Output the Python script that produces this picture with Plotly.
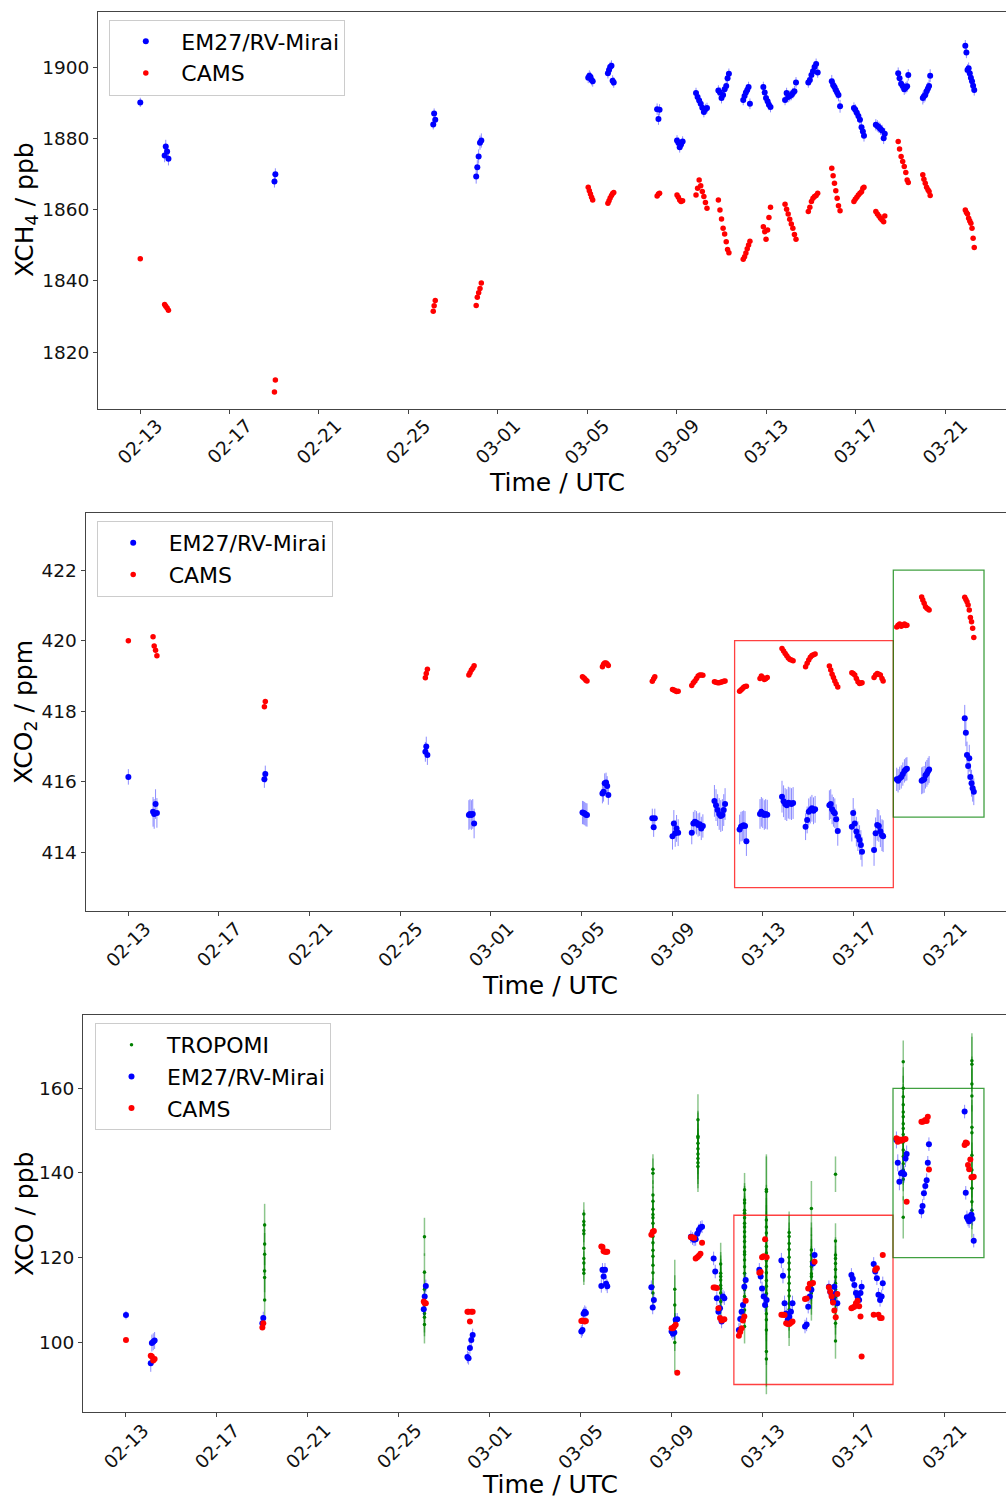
import pandas as pd
import plotly.graph_objects as go

# ---------------- data (time = fractional day of year 2021, 1.0 = Jan 1 00:00 UTC) ----------------
em27_times = [
    [44.01],
    [45.10, 45.15, 45.21, 45.27],
    [50.01, 50.05],
    [57.11, 57.15, 57.20],
    [59.03, 59.08, 59.14, 59.20, 59.26],
    [64.04, 64.09, 64.14, 64.19, 64.24],
    [64.92, 64.97, 65.02, 65.08, 65.13, 65.18],
    [67.12, 67.18, 67.23],
    [68.01, 68.07, 68.13, 68.19, 68.26],
    [68.86, 68.93, 69.00, 69.07, 69.14, 69.21, 69.28, 69.35],
    [69.86, 69.93, 70.00, 70.07, 70.14, 70.21, 70.27, 70.33],
    [70.97, 71.03, 71.09, 71.15, 71.21, 71.27],
    [71.87, 71.93, 71.99, 72.06, 72.12, 72.19],
    [72.84, 72.91, 72.98, 73.05, 73.12, 73.19, 73.26, 73.33],
    [73.88, 73.95, 74.02, 74.09, 74.16, 74.23, 74.30],
    [74.93, 74.99, 75.05, 75.11, 75.17, 75.23, 75.30],
    [75.92, 75.98, 76.05, 76.12, 76.19, 76.26, 76.32, 76.37],
    [76.90, 76.97, 77.04, 77.11, 77.18, 77.25, 77.30],
    [77.90, 77.96, 78.03, 78.10, 78.17, 78.24, 78.30, 78.35],
    [79.00, 79.05, 79.11, 79.17, 79.23, 79.28, 79.33],
    [80.90, 80.95, 81.00, 81.05, 81.10, 81.15, 81.20, 81.25, 81.30],
]

ch4_em27 = [
    [1890.1],
    [1875.2, 1877.7, 1876.3, 1874.3],
    [1867.9, 1869.9],
    [1883.9, 1887.0, 1885.2],
    [1869.3, 1871.9, 1874.9, 1878.8, 1879.4],
    [1897.0, 1897.6, 1897.2, 1896.4, 1896.0],
    [1898.3, 1899.2, 1900.0, 1900.4, 1896.2, 1895.7],
    [1888.2, 1885.4, 1888.0],
    [1879.4, 1878.8, 1877.5, 1878.3, 1879.1],
    [1892.7, 1891.6, 1890.6, 1889.7, 1888.6, 1887.4, 1888.2, 1888.5],
    [1893.4, 1892.9, 1891.3, 1892.2, 1893.8, 1894.7, 1896.9, 1898.1],
    [1890.8, 1891.9, 1892.9, 1893.6, 1894.4, 1889.7],
    [1894.4, 1892.9, 1891.3, 1890.4, 1889.4, 1888.8],
    [1890.8, 1892.7, 1891.6, 1891.9, 1892.2, 1892.7, 1893.2, 1895.7],
    [1895.7, 1896.4, 1897.8, 1898.8, 1900.0, 1900.9, 1898.5],
    [1896.0, 1895.0, 1894.4, 1893.6, 1892.9, 1892.2, 1889.0],
    [1888.5, 1888.0, 1887.2, 1886.3, 1885.2, 1883.1, 1881.9, 1880.7],
    [1883.8, 1883.5, 1883.1, 1882.6, 1882.2, 1880.0, 1881.3],
    [1898.3, 1896.9, 1895.3, 1894.7, 1893.8, 1894.2, 1894.6, 1897.8],
    [1891.3, 1891.8, 1892.2, 1893.2, 1894.0, 1894.7, 1897.6],
    [1906.0, 1904.1, 1899.2, 1899.7, 1898.3, 1897.0, 1896.0, 1894.8, 1893.6],
]
ch4_em27_err = [1.3, 1.9, 1.7, 1.4, 2.0, 1.5, 1.5, 1.6, 1.5, 1.5, 1.5,
                1.5, 1.5, 1.5, 1.5, 1.8, 1.6, 1.6, 1.6, 1.8, 1.6]

ch4_cams = [
    [1846.2],
    [1833.4, 1832.9, 1832.4, 1831.8],
    [1808.8, 1812.2],
    [1831.5, 1833.0, 1834.5],
    [1833.1, 1835.4, 1836.7, 1837.9, 1839.4],
    [1866.3, 1865.3, 1864.4, 1863.5, 1862.7],
    [1861.8, 1862.5, 1863.3, 1864.0, 1864.5, 1864.8],
    [1863.8, 1864.4, 1864.6],
    [1864.1, 1863.5, 1862.7, 1862.3, 1862.5],
    [1864.1, 1866.0, 1868.3, 1866.7, 1865.1, 1863.7, 1862.0, 1860.4],
    [1862.7, 1859.9, 1857.4, 1854.8, 1853.2, 1851.0, 1848.8, 1847.9],
    [1846.1, 1846.8, 1847.8, 1849.0, 1850.1, 1851.1],
    [1855.2, 1853.8, 1851.7, 1854.3, 1857.8, 1860.7],
    [1861.5, 1860.1, 1858.8, 1857.3, 1856.0, 1854.8, 1853.0, 1851.7],
    [1859.5, 1860.7, 1862.3, 1863.2, 1863.7, 1864.0, 1864.6],
    [1871.6, 1869.5, 1867.4, 1865.3, 1863.2, 1861.1, 1859.7],
    [1862.3, 1862.9, 1863.5, 1864.1, 1864.6, 1865.0, 1866.0, 1866.3],
    [1859.5, 1858.8, 1858.2, 1857.6, 1857.1, 1856.6, 1858.2],
    [1879.1, 1877.0, 1874.9, 1873.5, 1872.1, 1870.4, 1868.3, 1867.6],
    [1869.8, 1868.5, 1867.4, 1866.3, 1865.6, 1865.1, 1864.0],
    [1859.9, 1859.2, 1858.8, 1857.6, 1856.8, 1856.2, 1854.8, 1852.0, 1849.4],
]

co2_em27 = [
    [416.14],
    [415.15, 415.09, 415.37, 415.12],
    [416.07, 416.22],
    [416.85, 417.00, 416.76],
    [415.06, 415.09, 415.06, 415.09, 414.82],
    [415.13, 415.12, 415.10, 415.07, 415.06],
    [415.67, 415.72, 415.96, 415.98, 415.88, 415.63],
    [414.97, 414.71, 414.97],
    [414.46, 414.82, 414.54, 414.68, 414.56],
    [414.56, 414.82, 414.87, 414.84, 414.78, 414.80, 414.68, 414.75],
    [415.46, 415.34, 415.20, 415.09, 415.03, 415.06, 415.20, 415.37],
    [414.65, 414.73, 414.75, 414.77, 414.75, 414.32],
    [415.09, 415.15, 415.11, 415.06, 415.09, 415.07],
    [415.58, 415.45, 415.37, 415.34, 415.41, 415.39, 415.37, 415.40],
    [414.73, 414.92, 415.15, 415.20, 415.25, 415.18, 415.22],
    [415.34, 415.37, 415.22, 415.15, 415.11, 414.94, 414.61],
    [414.73, 415.12, 414.82, 414.59, 414.46, 414.35, 414.21, 414.02],
    [414.07, 414.54, 414.78, 414.75, 414.60, 414.49, 414.46],
    [416.07, 416.03, 416.10, 416.14, 416.22, 416.31, 416.35, 416.37],
    [416.03, 416.05, 416.07, 416.19, 416.24, 416.30, 416.35],
    [417.80, 417.39, 416.76, 416.45, 416.67, 416.14, 415.96, 415.82, 415.72],
]
co2_em27_err = [0.22, 0.42, 0.24, 0.28, 0.42, 0.33, 0.28, 0.27, 0.38, 0.33, 0.45,
                0.42, 0.42, 0.45, 0.38, 0.42, 0.42, 0.45, 0.33, 0.38, 0.38]

co2_cams = [
    [420.00],
    [420.11, 419.85, 419.73, 419.57],
    [418.13, 418.28],
    [418.95, 419.07, 419.19],
    [419.03, 419.09, 419.17, 419.22, 419.29],
    [418.98, 418.95, 418.92, 418.88, 418.86],
    [419.26, 419.33, 419.37, 419.37, 419.34, 419.30],
    [418.85, 418.92, 418.98],
    [418.62, 418.60, 418.58, 418.56, 418.57],
    [418.73, 418.81, 418.86, 418.93, 419.00, 419.03, 419.03, 419.02],
    [418.84, 418.82, 418.81, 418.81, 418.82, 418.84, 418.85, 418.86],
    [418.57, 418.60, 418.64, 418.68, 418.70, 418.71],
    [418.93, 419.00, 418.96, 418.90, 418.92, 418.96],
    [419.78, 419.71, 419.64, 419.57, 419.51, 419.47, 419.45, 419.43],
    [419.26, 419.36, 419.45, 419.53, 419.58, 419.60, 419.62],
    [419.28, 419.17, 419.05, 418.96, 418.86, 418.77, 418.69],
    [419.09, 419.07, 419.03, 418.93, 418.84, 418.79, 418.80, 418.81],
    [418.96, 419.03, 419.07, 419.05, 419.03, 418.93, 418.86],
    [420.39, 420.44, 420.47, 420.41, 420.44, 420.47, 420.43, 420.44],
    [421.24, 421.15, 421.06, 420.96, 420.92, 420.90, 420.87],
    [421.23, 421.17, 421.10, 421.01, 420.87, 420.66, 420.54, 420.35, 420.09],
]

co_em27 = [
    [106.4],
    [95.0, 99.8, 100.1, 100.4],
    [104.5, 105.7],
    [107.8, 110.8, 113.3],
    [96.5, 96.2, 98.6, 100.5, 101.7],
    [102.5, 102.9, 106.7, 107.2, 106.9],
    [113.3, 117.1, 115.5, 117.1, 113.8, 113.2],
    [113.0, 108.2, 110.0],
    [102.5, 102.0, 102.3, 105.3, 105.4],
    [124.9, 124.5, 124.2, 124.3, 125.6, 126.5, 127.1, 127.3],
    [119.8, 116.7, 110.4, 107.2, 108.0, 104.9, 110.8, 110.4],
    [102.9, 105.5, 107.2, 108.8, 113.1, 114.7],
    [117.1, 115.5, 112.7, 110.8, 108.8, 110.0],
    [119.3, 115.7, 109.2, 106.8, 105.3, 106.0, 107.2, 109.2],
    [103.7, 104.2, 108.4, 110.8, 112.4, 118.6, 120.6],
    [113.1, 111.9, 111.2, 110.0, 113.1, 111.5, 109.2],
    [115.9, 115.0, 113.5, 111.6, 110.8, 110.0, 111.6, 113.1],
    [118.5, 116.7, 115.1, 111.2, 110.0, 110.8, 113.9],
    [147.8, 142.4, 137.9, 139.9, 140.1, 139.7, 143.4, 144.5],
    [130.9, 132.2, 135.2, 136.9, 138.3, 142.4, 146.8],
    [154.5, 135.3, 129.5, 129.0, 128.6, 129.7, 130.1, 129.2, 124.0],
]
co_em27_err = [1.0, 2.0, 1.5, 1.5, 1.5, 1.5, 1.6, 1.6, 1.5, 1.5, 1.6,
               1.6, 1.6, 1.8, 1.6, 1.5, 1.6, 1.6, 2.0, 1.6, 1.6]

co_cams = [
    [100.5],
    [96.8, 96.6, 95.7, 96.0],
    [103.5, 104.5],
    [109.6, 109.2, 109.2],
    [107.2, 107.2, 104.9, 107.2, 107.2],
    [105.0, 105.1, 105.0, 104.9, 105.0],
    [122.6, 122.5, 121.5, 121.4, 121.4, 121.4],
    [125.4, 126.1, 126.3],
    [103.3, 103.3, 103.7, 104.1, 92.8],
    [124.8, 124.8, 124.6, 119.8, 120.1, 120.4, 120.9, 123.5],
    [112.9, 112.9, 112.8, 108.0, 105.7, 105.1, 105.3, 105.4],
    [101.5, 102.4, 103.3, 105.1, 106.1, 109.8],
    [116.4, 116.6, 120.1, 120.3, 124.3, 120.1],
    [106.5, 106.5, 106.4, 104.5, 104.3, 104.3, 104.6, 104.9],
    [110.2, 110.3, 112.7, 113.8, 113.8, 114.0, 119.0],
    [113.0, 111.9, 110.8, 109.4, 107.5, 105.9, 111.4],
    [108.0, 108.2, 108.4, 109.2, 109.8, 108.5, 106.1, 96.6],
    [106.5, 117.1, 117.5, 106.5, 105.7, 105.7, 120.6],
    [148.2, 147.4, 147.9, 147.6, 147.9, 147.9, 148.0, 133.2],
    [152.1, 152.1, 152.2, 152.5, 152.3, 153.3, 140.8],
    [146.6, 147.2, 147.0, 141.9, 140.9, 143.2, 139.0, 139.0, 139.1],
]

tropomi_times = [50.11, 57.14, 64.15, 67.19, 68.15, 69.17, 70.17,
                 71.22, 72.18, 73.18, 74.16, 75.22, 78.20, 81.22]
tropomi_co = [
    [127.7, 123.2, 120.8, 116.8, 115.3, 110.0],
    [124.9, 116.5, 112.5, 109.2, 106.8, 105.9, 104.2],
    [130.3, 128.5, 127.7, 126.4, 125.6, 122.2, 119.8, 118.7, 117.1, 116.3],
    [140.9, 139.9, 134.8, 133.3, 131.4, 130.2, 129.4, 128.1, 126.3, 125.0,
     123.5, 121.7, 120.3, 118.2, 116.4, 113.1, 111.6],
    [112.5, 108.8, 104.9, 99.9],
    [152.6, 148.7, 148.3, 147.0, 145.7, 144.5, 143.4, 142.4, 141.5],
    [118.5, 116.3, 115.5, 114.7, 113.4, 112.7, 111.6, 109.6],
    [136.0, 133.6, 132.9, 131.2, 130.5, 129.4, 128.1, 127.2, 126.1, 124.9, 123.8,
     122.5, 121.4, 120.7, 119.4, 117.8, 116.3, 114.6, 112.4, 110.8, 107.6, 103.7],
    [136.1, 135.6, 128.9, 127.2, 125.8, 124.1, 122.6, 121.1, 119.3, 117.9, 116.4,
     114.6, 113.2, 111.5, 110.0, 108.5, 106.7, 105.3, 102.9, 97.8, 96.0],
    [125.9, 125.0, 123.3, 121.9, 120.1, 118.7, 117.2, 115.4, 113.9, 112.3,
     110.9, 109.1, 107.7, 106.0, 104.1],
    [131.6, 121.8, 120.6, 119.0, 117.9, 116.2, 115.5, 114.3, 113.0, 111.6],
    [139.7, 123.9, 120.6, 119.8, 118.6, 117.2, 115.4, 113.9, 112.5, 110.7,
     109.3, 107.6, 106.0, 104.5, 100.3],
    [166.3, 160.0, 158.0, 156.1, 154.4, 153.3, 151.6, 150.5, 149.1, 147.3,
     145.4, 143.9, 142.2, 140.7, 138.5, 129.5],
    [166.5, 165.7, 161.0, 158.2, 150.8, 149.5, 144.2, 140.7, 138.7, 136.4, 133.2, 131.2],
]
tropomi_err = [5.0, 4.5, 2.8, 3.5, 7.0, 6.0, 5.0, 4.0, 8.3, 5.0, 6.5, 4.2, 5.0, 6.5]

tick_doy = [44, 48, 52, 56, 60, 64, 68, 72, 76, 80]
tick_labels = ["02-13", "02-17", "02-21", "02-25", "03-01",
               "03-05", "03-09", "03-13", "03-17", "03-21"]

ch4_ticks = [1820, 1840, 1860, 1880, 1900]
co2_ticks = [414, 416, 418, 420, 422]
co_ticks = [100, 120, 140, 160]

# highlighted periods (day of year) and value ranges
box_red_doy = [70.75, 77.75]
box_green_doy = [77.75, 81.75]
co2_box_red = [413.0, 420.0]
co2_box_green = [415.0, 422.0]
co_box_red = [90.0, 130.0]
co_box_green = [120.0, 160.0]

# ---------------- helpers ----------------
W, H = 1006, 1498
BASE = pd.Timestamp("2021-01-01")
FONT = "DejaVu Sans"


def to_dt(doys):
    return [BASE + pd.Timedelta(days=float(d) - 1.0) for d in doys]


def flat(sessions):
    return [v for s in sessions for v in s]


def per_point(consts, sessions):
    return [c for c, s in zip(consts, sessions) for _ in s]


def px(X):
    return X / W


def py(Y):
    return 1 - Y / H


t_em27 = to_dt(flat(em27_times))
t_trop = to_dt([t for t, vals in zip(tropomi_times, tropomi_co) for _ in vals])

BLUE, RED, GREEN = "#0000ff", "#ff0000", "#008000"
BLUE_ERR, GREEN_ERR = "rgba(0,0,255,0.45)", "rgba(0,128,0,0.45)"

fig = go.Figure()

# ---- top: XCH4
fig.add_trace(go.Scatter(
    x=t_em27, y=flat(ch4_em27), mode="markers", name="EM27/RV-Mirai",
    marker=dict(color=BLUE, size=6),
    error_y=dict(type="data", array=per_point(ch4_em27_err, em27_times),
                 color=BLUE_ERR, thickness=1, width=0),
    xaxis="x", yaxis="y", legend="legend"))
fig.add_trace(go.Scatter(
    x=t_em27, y=flat(ch4_cams), mode="markers", name="CAMS",
    marker=dict(color=RED, size=5.5), xaxis="x", yaxis="y", legend="legend"))

# ---- middle: XCO2
fig.add_trace(go.Scatter(
    x=t_em27, y=flat(co2_em27), mode="markers", name="EM27/RV-Mirai",
    marker=dict(color=BLUE, size=6),
    error_y=dict(type="data", array=per_point(co2_em27_err, em27_times),
                 color=BLUE_ERR, thickness=1, width=0),
    xaxis="x2", yaxis="y2", legend="legend2"))
fig.add_trace(go.Scatter(
    x=t_em27, y=flat(co2_cams), mode="markers", name="CAMS",
    marker=dict(color=RED, size=5.5), xaxis="x2", yaxis="y2", legend="legend2"))

# ---- bottom: XCO
fig.add_trace(go.Scatter(
    x=t_trop, y=flat(tropomi_co), mode="markers", name="TROPOMI",
    marker=dict(color=GREEN, size=3.5),
    error_y=dict(type="data", array=per_point(tropomi_err, tropomi_co),
                 color=GREEN_ERR, thickness=1.5, width=0),
    xaxis="x3", yaxis="y3", legend="legend3"))
fig.add_trace(go.Scatter(
    x=t_em27, y=flat(co_em27), mode="markers", name="EM27/RV-Mirai",
    marker=dict(color=BLUE, size=6),
    error_y=dict(type="data", array=per_point(co_em27_err, em27_times),
                 color=BLUE_ERR, thickness=1, width=0),
    xaxis="x3", yaxis="y3", legend="legend3"))
fig.add_trace(go.Scatter(
    x=t_em27, y=flat(co_cams), mode="markers", name="CAMS",
    marker=dict(color=RED, size=6), xaxis="x3", yaxis="y3", legend="legend3"))

# ---------------- layout ----------------
LINE = "#444444"
x_range = to_dt([42.12, 82.72])
tick_dates = to_dt(tick_doy)

panels = [
    # (x-axis name, y-axis name, left px, top px, bottom px, y range, y ticks)
    ("xaxis", "yaxis", 98.0, 11.5, 408.5, [1804.2, 1915.6], ch4_ticks),
    ("xaxis2", "yaxis2", 85.5, 513.3, 911.0, [412.34, 423.61], co2_ticks),
    ("xaxis3", "yaxis3", 83.0, 1014.7, 1412.0, [83.5, 177.4], co_ticks),
]

layout = dict(
    width=W, height=H, margin=dict(l=0, r=0, t=0, b=0),
    paper_bgcolor="white", plot_bgcolor="white",
    font=dict(family=FONT, color="black"),
)
for i, (xa, ya, left, top, bottom, yr, yt) in enumerate(panels):
    suffix = "" if i == 0 else str(i + 1)
    layout[xa] = dict(
        domain=[px(left), 1.0], range=x_range, type="date",
        anchor="y" + suffix, showline=True, linecolor=LINE, linewidth=1,
        mirror=True, ticks="outside", ticklen=4, tickcolor=LINE,
        tickvals=tick_dates, showticklabels=False, showgrid=False,
        zeroline=False, automargin=False)
    layout[ya] = dict(
        domain=[py(bottom), py(top)], range=yr, anchor="x" + suffix,
        showline=True, linecolor=LINE, linewidth=1, mirror=False,
        ticks="outside", ticklen=4, tickcolor=LINE, tickvals=yt,
        tickfont=dict(size=18.5, family=FONT, color="#111"),
        showgrid=False, zeroline=False, automargin=False)

annotations = []
# x tick labels (centered under the tick, rotated 45 degrees as in the original)
label_center_y = [441.5, 944.0, 1446.0]
for i, yc in enumerate(label_center_y):
    xref = "x" if i == 0 else "x" + str(i + 1)
    for d, lab in zip(tick_dates, tick_labels):
        annotations.append(dict(
            x=d, y=py(yc), xref=xref, yref="paper", text=lab, showarrow=False,
            textangle=-45, xanchor="center", yanchor="middle",
            font=dict(size=18.5, family=FONT, color="#111")))
# axis titles
for (xc, yc) in [(557, 482.5), (550, 985), (549.5, 1484.5)]:
    annotations.append(dict(
        x=px(xc), y=py(yc), xref="paper", yref="paper", text="Time / UTC",
        showarrow=False, xanchor="center", yanchor="middle",
        font=dict(size=25, family=FONT, color="black")))
for (xc, yc, txt) in [(26, 210, "XCH<sub>4</sub> / ppb"),
                      (25, 712, "XCO<sub>2</sub> / ppm"),
                      (24, 1214, "XCO / ppb")]:
    annotations.append(dict(
        x=px(xc), y=py(yc), xref="paper", yref="paper", text=txt,
        showarrow=False, textangle=-90, xanchor="center", yanchor="middle",
        font=dict(size=25, family=FONT, color="black")))
layout["annotations"] = annotations

# highlight boxes
shapes = []
for xref, yref, red_y, green_y in [("x2", "y2", co2_box_red, co2_box_green),
                                   ("x3", "y3", co_box_red, co_box_green)]:
    rx = to_dt(box_red_doy)
    gx = to_dt(box_green_doy)
    shapes.append(dict(type="rect", xref=xref, yref=yref, x0=rx[0], x1=rx[1],
                       y0=red_y[0], y1=red_y[1],
                       line=dict(color="rgba(255,0,0,0.75)", width=1.3)))
    shapes.append(dict(type="rect", xref=xref, yref=yref, x0=gx[0], x1=gx[1],
                       y0=green_y[0], y1=green_y[1],
                       line=dict(color="rgba(0,128,0,0.75)", width=1.3)))
layout["shapes"] = shapes

legend_common = dict(
    xanchor="left", yanchor="top", bgcolor="rgba(255,255,255,0.8)",
    bordercolor="#cccccc", borderwidth=1, itemwidth=61,
    font=dict(size=22, family=FONT, color="black"))
layout["legend"] = dict(x=px(109.3), y=py(19.5), **legend_common)
layout["legend2"] = dict(x=px(96.7), y=py(521.0), **legend_common)
layout["legend3"] = dict(x=px(95.0), y=py(1023.0), **legend_common)

fig.update_layout(**layout)
fig.write_html(
    "out.html",
    config={"displayModeBar": False},
    post_script="document.body.style.margin='0';document.body.style.overflow='hidden';",
)
